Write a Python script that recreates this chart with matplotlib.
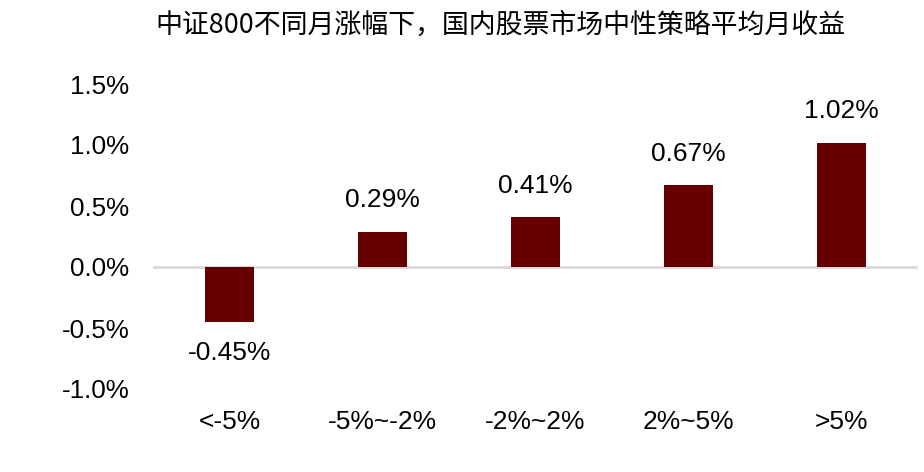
import matplotlib
matplotlib.use("Agg")
import matplotlib.pyplot as plt

plt.rcParams['font.family'] = ['Liberation Sans', 'Noto Sans CJK SC', 'DejaVu Sans']

categories = ['<-5%', '-5%~-2%', '-2%~2%', '2%~5%', '>5%']
returns = [-0.45, 0.29, 0.41, 0.67, 1.02]
yticks = [-1.0, -0.5, 0.0, 0.5, 1.0, 1.5]
title = '中证800不同月涨幅下，国内股票市场中性策略平均月收益'

fig = plt.figure(figsize=(9.24, 4.72), dpi=100)
ax = fig.add_axes([153 / 924, 1 - 389 / 472, 765 / 924, 305 / 472])

x = list(range(len(categories)))
ax.bar(x, returns, width=0.32, color='#660000', zorder=3)
ax.axhline(0, color='#d9d9d9', linewidth=2, zorder=2)

for xi, v in zip(x, returns):
    off = 14 if v >= 0 else -14
    ax.annotate(f'{v:.2f}%', (xi, v), xytext=(0, off), textcoords='offset points',
                ha='center', va='bottom' if v >= 0 else 'top', fontsize=19, color='black')

ax.set_xlim(-0.5, len(categories) - 0.5)
ax.set_ylim(-1.0, 1.5)
ax.set_yticks(yticks)
ax.set_yticklabels([f'{t:.1f}%' for t in yticks], fontsize=18.7)
ax.set_xticks(x)
ax.set_xticklabels(categories, fontsize=19)
ax.tick_params(axis='x', length=0, pad=15)
ax.tick_params(axis='y', length=0, pad=17)
for s in ax.spines.values():
    s.set_visible(False)

fig.text(500 / 924, 1 - 25 / 472, title, ha='center', va='center', fontsize=19.4,
         family=['Noto Sans CJK SC', 'DejaVu Sans'])

fig.savefig('out.png', dpi=100)
